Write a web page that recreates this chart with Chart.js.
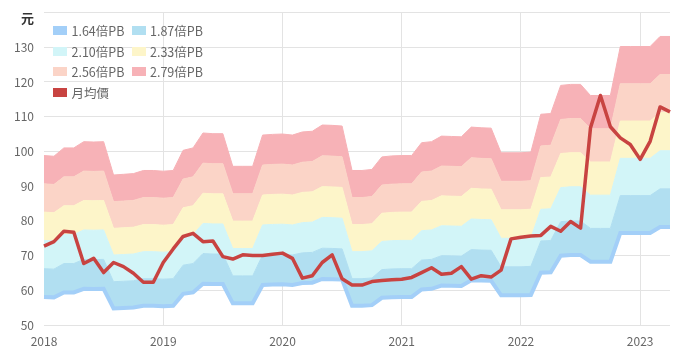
<!DOCTYPE html>
<html><head><meta charset="utf-8">
<script src="https://cdn.jsdelivr.net/npm/chart.js@4"></script>
<style>
html,body{margin:0;padding:0;background:#fff;}
#wrap{position:relative;width:684px;height:356px;}
#legend{position:absolute;left:53px;top:20px;display:grid;grid-template-columns:78.5px auto;font:12.5px "Noto Sans CJK TC","Noto Sans",sans-serif;color:#666;}
.item{display:flex;align-items:center;height:20.8px;white-space:nowrap;}
.box{width:14px;height:9px;margin-right:4.5px;flex:none;}
</style></head>
<body><div id="wrap"><canvas id="c" width="684" height="356"></canvas><div id="legend"></div></div>
<script>
const months = [
 '2018-01','2018-02','2018-03','2018-04','2018-05','2018-06','2018-07','2018-08','2018-09','2018-10','2018-11','2018-12',
 '2019-01','2019-02','2019-03','2019-04','2019-05','2019-06','2019-07','2019-08','2019-09','2019-10','2019-11','2019-12',
 '2020-01','2020-02','2020-03','2020-04','2020-05','2020-06','2020-07','2020-08','2020-09','2020-10','2020-11','2020-12',
 '2021-01','2021-02','2021-03','2021-04','2021-05','2021-06','2021-07','2021-08','2021-09','2021-10','2021-11','2021-12',
 '2022-01','2022-02','2022-03','2022-04','2022-05','2022-06','2022-07','2022-08','2022-09','2022-10','2022-11','2022-12',
 '2023-01','2023-02','2023-03','2023-04'];

const pb164 = [58.08,57.96,59.37,59.37,60.43,60.37,60.43,54.78,54.90,55.02,55.55,55.55,55.43,55.55,58.96,59.37,61.90,61.78,61.78,56.25,56.25,56.25,61.54,61.66,61.72,61.54,62.07,62.19,63.25,63.19,63.07,55.55,55.55,55.72,57.84,58.02,58.08,58.08,60.25,60.43,61.37,61.31,61.25,62.90,62.78,62.72,58.55,58.55,58.55,58.66,65.07,65.19,69.95,70.13,70.13,68.24,68.24,68.24,76.53,76.53,76.53,76.53,78.24,78.24];
const pb187 = [66.22,66.09,67.70,67.70,68.90,68.83,68.90,62.47,62.60,62.74,63.34,63.34,63.20,63.34,67.23,67.70,70.58,70.44,70.44,64.14,64.14,64.14,70.17,70.31,70.38,70.17,70.78,70.91,72.12,72.05,71.92,63.34,63.34,63.54,65.95,66.15,66.22,66.22,68.70,68.90,69.97,69.91,69.84,71.72,71.58,71.52,66.76,66.76,66.76,66.89,74.20,74.33,79.76,79.96,79.96,77.82,77.82,77.82,87.27,87.27,87.27,87.27,89.21,89.21];
const pb210 = [74.37,74.22,76.02,76.02,77.38,77.30,77.38,70.15,70.30,70.45,71.13,71.13,70.98,71.13,75.49,76.02,79.26,79.11,79.11,72.03,72.03,72.03,78.81,78.96,79.03,78.81,79.48,79.63,80.99,80.91,80.76,71.13,71.13,71.36,74.06,74.29,74.37,74.37,77.15,77.38,78.58,78.51,78.43,80.54,80.39,80.31,74.97,74.97,74.97,75.12,83.32,83.47,89.57,89.80,89.80,87.39,87.39,87.39,98.00,98.00,98.00,98.00,100.18,100.18];
const pb233 = [82.51,82.34,84.35,84.35,85.85,85.77,85.85,77.83,78.00,78.17,78.92,78.92,78.75,78.92,83.76,84.35,87.94,87.77,87.77,79.92,79.92,79.92,87.44,87.61,87.69,87.44,88.19,88.36,89.86,89.78,89.61,78.92,78.92,79.17,82.18,82.43,82.51,82.51,85.60,85.85,87.19,87.10,87.02,89.36,89.19,89.11,83.18,83.18,83.18,83.35,92.45,92.62,99.38,99.63,99.63,96.96,96.96,96.96,108.73,108.73,108.73,108.73,111.16,111.16];
const pb256 = [90.65,90.47,92.67,92.67,94.33,94.23,94.33,85.52,85.70,85.88,86.71,86.71,86.53,86.71,92.03,92.67,96.62,96.44,96.44,87.81,87.81,87.81,96.07,96.25,96.34,96.07,96.89,97.08,98.73,98.64,98.45,86.71,86.71,86.98,90.29,90.56,90.65,90.65,94.05,94.33,95.79,95.70,95.61,98.18,97.99,97.90,91.39,91.39,91.39,91.57,101.57,101.76,109.19,109.46,109.46,106.53,106.53,106.53,119.47,119.47,119.47,119.47,122.13,122.13];
const pb279 = [98.8,98.6,101.0,101.0,102.8,102.7,102.8,93.2,93.4,93.6,94.5,94.5,94.3,94.5,100.3,101.0,105.3,105.1,105.1,95.7,95.7,95.7,104.7,104.9,105.0,104.7,105.6,105.8,107.6,107.5,107.3,94.5,94.5,94.8,98.4,98.7,98.8,98.8,102.5,102.8,104.4,104.3,104.2,107.0,106.8,106.7,99.6,99.6,99.6,99.8,110.7,110.9,119.0,119.3,119.3,116.1,116.1,116.1,130.2,130.2,130.2,130.2,133.1,133.1];
const price = [72.7,74.0,77.0,76.7,67.7,69.2,65.1,68.0,66.8,64.9,62.3,62.3,68.0,71.9,75.5,76.4,74.0,74.2,69.7,69.0,70.2,70.0,70.0,70.4,70.7,69.2,63.5,64.2,68.0,70.2,63.3,61.5,61.5,62.5,62.8,63.0,63.2,63.7,65.1,66.5,64.6,64.9,66.8,63.2,64.2,63.8,65.8,74.8,75.3,75.6,75.8,78.4,77.0,79.8,77.9,106.8,116.1,107.1,103.9,102.0,97.7,102.9,112.8,111.4];

const seriesNames = ['1.64倍PB','1.87倍PB','2.10倍PB','2.33倍PB','2.56倍PB','2.79倍PB','月均價'];
const yTicks = [50,60,70,80,90,100,110,120,130];
const unitLabel = '元';

const bandColors = ['#a3cff8','#b1dff1','#d2f5f8','#fdf5c9','#fbd4c7','#f7b2b7'];
const priceColor = '#c84341';
const FONT = '"Noto Sans CJK TC","Noto Sans",sans-serif';

const bands = [pb164,pb187,pb210,pb233,pb256,pb279];
const datasets = bands.map((arr,k)=>({
  label: seriesNames[k],
  data: arr,
  borderColor: bandColors[k],
  backgroundColor: bandColors[k],
  borderWidth: k===0 ? 4 : 1,
  fill: k===0 ? false : '-1',
  pointRadius: 0,
  tension: 0,
  order: k+1
}));
datasets.push({
  label: seriesNames[6],
  data: price,
  borderColor: priceColor,
  backgroundColor: priceColor,
  borderWidth: 3.5,
  fill: false,
  pointRadius: 0,
  tension: 0,
  order: 0,
  borderJoinStyle: 'round'
});

const unitPlugin = {
  id: 'unit',
  afterDraw(chart){
    const y = chart.scales.y; const ctx = chart.ctx;
    ctx.save();
    ctx.font = '600 13px ' + FONT;
    ctx.fillStyle = '#333';
    ctx.textAlign = 'right';
    ctx.textBaseline = 'middle';
    ctx.fillText(unitLabel, y.right - 10, y.getPixelForValue(140) + 5.5);
    ctx.restore();
  }
};

const chart = new Chart(document.getElementById('c'), {
  type: 'line',
  data: { labels: months, datasets },
  options: {
    responsive: false,
    devicePixelRatio: 1,
    animation: false,
    layout: { padding: { top: 12.5, right: 14, left: 0, bottom: 0 } },
    plugins: { legend: { display: false }, tooltip: { enabled: false } },
    scales: {
      x: {
        type: 'category',
        offset: false,
        afterFit(s){ s.height = 31; s.paddingLeft = 0; s.paddingRight = 0; },
        border: { display: false },
        grid: {
          drawTicks: false,
          color: (c) => (c.index > 0 && months[c.index] && months[c.index].endsWith('-01')) ? '#e3e3e3' : 'rgba(0,0,0,0)'
        },
        ticks: {
          autoSkip: false, maxRotation: 0, padding: 9,
          color: '#666', font: { family: FONT, size: 12 },
          callback(v, i){ const m = months[i]; return m.endsWith('-01') ? m.slice(0,4) : ''; }
        }
      },
      y: {
        min: 50, max: 140,
        afterFit(s){ s.width = 44; s.paddingTop = 0; s.paddingBottom = 0; },
        afterBuildTicks(s){ s.ticks = yTicks.concat([140]).map(v=>({value:v})); },
        border: { display: false },
        grid: { drawTicks: false, color: '#e3e3e3' },
        ticks: {
          padding: 10, color: '#666', font: { family: FONT, size: 12 },
          callback(v){ return v === 140 ? '' : String(v); }
        }
      }
    }
  },
  plugins: [unitPlugin]
});

const lg = document.getElementById('legend');
chart.data.datasets.forEach(ds=>{
  const it = document.createElement('div'); it.className='item';
  const b = document.createElement('span'); b.className='box';
  b.style.background = ds.label === seriesNames[6] ? ds.borderColor : ds.backgroundColor;
  const t = document.createElement('span'); t.textContent = ds.label;
  it.appendChild(b); it.appendChild(t); lg.appendChild(it);
});
</script>
</body></html>
